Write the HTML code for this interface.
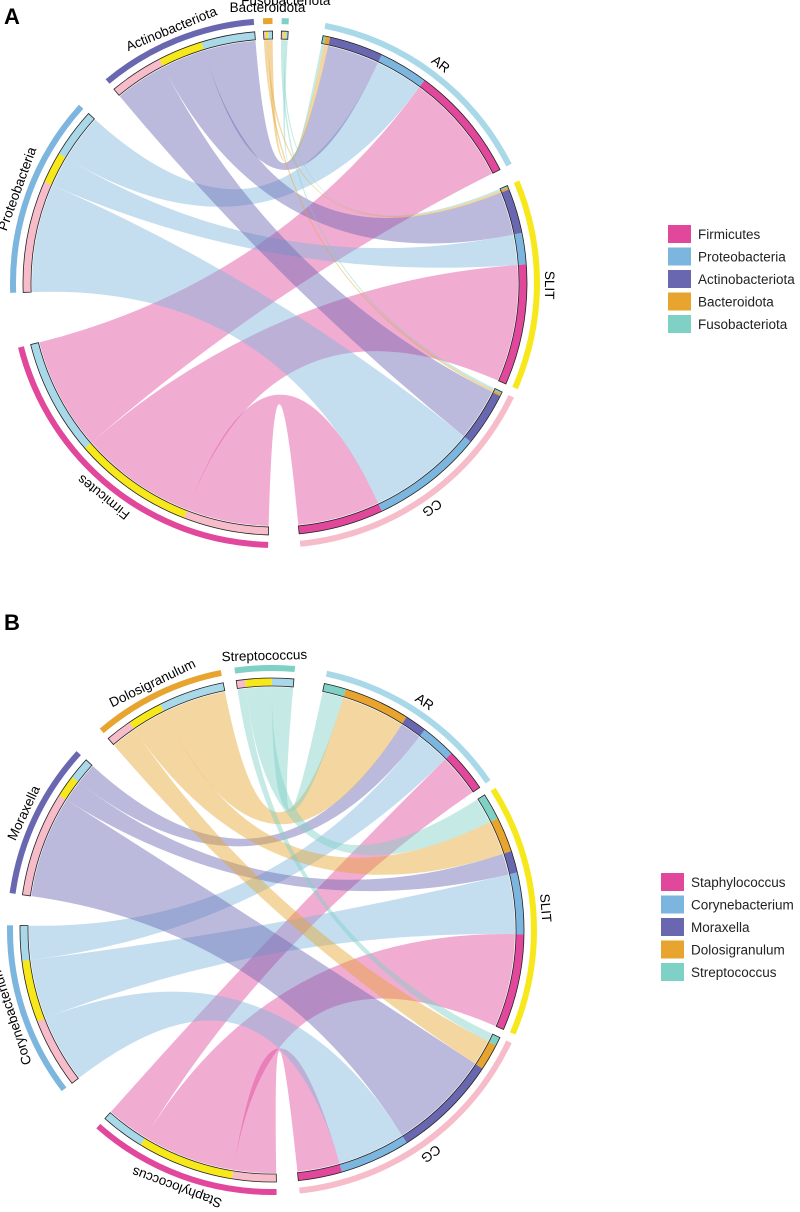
<!DOCTYPE html>
<html><head><meta charset="utf-8"><style>
body{margin:0;background:#fff;font-family:"Liberation Sans",sans-serif;}
svg{display:block}
</style></head><body>
<svg id="svg" width="800" height="1212" viewBox="0 0 800 1212">
<text x="4" y="24" font-size="22" font-weight="bold">A</text>
<text x="4" y="630" font-size="22" font-weight="bold">B</text>
</svg>
<script>
// ---------- Panel A data ----------
const samplesA = ["AR","SLIT","CG"];
const taxaA = ["Firmicutes","Proteobacteria","Actinobacteriota","Bacteroidota","Fusobacteriota"];
const firmicutesA = [26,27,19];
const proteobacteriaA = [11,7,25];
const actinobacteriotaA = [12,10,12];
const bacteroidotaA = [1,0.5,0.5];
const fusobacteriotaA = [0.6,0.4,0.5];
// ---------- Panel B data ----------
const samplesB = ["AR","SLIT","CG"];
const taxaB = ["Staphylococcus","Corynebacterium","Moraxella","Dolosigranulum","Streptococcus"];
const staphylococcusB = [10,22,10];
const corynebacteriumB = [8,14,16];
const moraxellaB = [5,5,24];
const dolosigranulumB = [15,8,6];
const streptococcusB = [5,6,2];

const sampleColors = ["#a9d9e8","#f7e81c","#f7bcc9"];
const taxaColors = ["#e1479b","#7cb5dd","#6a67b1","#e7a42f","#7fd0c5"];
const NS="http://www.w3.org/2000/svg";
const svg=document.getElementById('svg');
function mk(tag,attrs,parent){const e=document.createElementNS(NS,tag);for(const k in attrs)e.setAttribute(k,attrs[k]);(parent||svg).appendChild(e);return e;}
function pt(cx,cy,r,a){const t=a*Math.PI/180;return [cx+r*Math.sin(t),cy-r*Math.cos(t)];}
function arcBand(cx,cy,r1,r2,a1,a2){
  const p1=pt(cx,cy,r2,a1),p2=pt(cx,cy,r2,a2),p3=pt(cx,cy,r1,a2),p4=pt(cx,cy,r1,a1);const lg=(a2-a1)>180?1:0;
  return `M${p1}A${r2},${r2} 0 ${lg} 1 ${p2}L${p3}A${r1},${r1} 0 ${lg} 0 ${p4}Z`;}

function chord(cfg){
  const {cx,cy,samples,taxa,matrix,gapsAfter,start,title}=cfg;
  const g=mk('g',{});
  
  
  const sTot=samples.map((s,j)=>matrix.reduce((a,row)=>a+row[j],0));
  const tTot=matrix.map(r=>r.reduce((a,b)=>a+b,0));
  const total=sTot.reduce((a,b)=>a+b,0)+tTot.reduce((a,b)=>a+b,0);
  const gapSum=gapsAfter.reduce((a,b)=>a+b,0);
  const k=(360-gapSum)/total;
  const sectors=[];let a=start,gi=0;
  samples.forEach((s,j)=>{sectors.push({name:s,kind:'s',i:j,a1:a,a2:a+sTot[j]*k,color:sampleColors[j]});a+=sTot[j]*k+gapsAfter[gi++];});
  taxa.forEach((t,i)=>{sectors.push({name:t,kind:'t',i:i,a1:a,a2:a+tTot[i]*k,color:taxaColors[i]});a+=tTot[i]*k+gapsAfter[gi++];});
  const sSec=sectors.filter(s=>s.kind==='s'),tSec=sectors.filter(s=>s.kind==='t');
  const sPos={},tPos={};
  sSec.forEach(sec=>{let p=sec.a1;for(let i=taxa.length-1;i>=0;i--){const v=matrix[i][sec.i]*k;sPos[i+'_'+sec.i]=[p,p+v];p+=v;}});
  tSec.forEach(sec=>{let p=sec.a1;for(let j=samples.length-1;j>=0;j--){const v=matrix[sec.i][j]*k;tPos[sec.i+'_'+j]=[p,p+v];p+=v;}});
  const rc=243,rin1=244,rin2=252,ro1=259,ro2=265;
  for(let i=0;i<taxa.length;i++)for(let j=0;j<samples.length;j++){
    const [a1,a2]=tPos[i+'_'+j],[b1,b2]=sPos[i+'_'+j];
    const p1=pt(cx,cy,rc,a1),p2=pt(cx,cy,rc,a2),p3=pt(cx,cy,rc,b1),p4=pt(cx,cy,rc,b2);
    const d=`M${p1}A${rc},${rc} 0 0 1 ${p2}Q${cx},${cy} ${p3}A${rc},${rc} 0 0 1 ${p4}Q${cx},${cy} ${p1}Z`;
    const e=mk('path',{d:d,fill:taxaColors[i],'fill-opacity':0.45,stroke:'none'},g);
    
    
  }
  sectors.forEach(sec=>{
    const o=mk('path',{d:arcBand(cx,cy,ro1,ro2,sec.a1,sec.a2),fill:sec.color},g);
    
    
    if(sec.kind==='s'){for(let i=0;i<taxa.length;i++){const [x1,x2]=sPos[i+'_'+sec.i];
      const e=mk('path',{d:arcBand(cx,cy,rin1,rin2,x1,x2),fill:taxaColors[i]},g);
      
      }}
    else{for(let j=0;j<samples.length;j++){const [x1,x2]=tPos[sec.i+'_'+j];
      const e=mk('path',{d:arcBand(cx,cy,rin1,rin2,x1,x2),fill:sampleColors[j]},g);
      
      }}
    const b=mk('path',{d:arcBand(cx,cy,rin1,rin2,sec.a1,sec.a2),fill:'none',stroke:'#222','stroke-width':0.8},g);
    
    
    const mid=(sec.a1+sec.a2)/2;
    const small=(sec.a2-sec.a1)<5;
    const rl=small?(sec.name.startsWith('Fuso')?278:271):270;
    const t=mk('text',{x:cx,y:cy-rl,'text-anchor':'middle','font-size':13.5,transform:`rotate(${small?0:mid} ${cx} ${cy})`},g);
    if(small){const p=pt(cx,cy,rl,mid);t.setAttribute('x',p[0]);t.setAttribute('y',p[1]);t.removeAttribute('transform');}
    t.textContent=sec.name;
    
    
  });
}
function legend(x,y,names,title){
  const g=mk('g',{});
  
  
  names.forEach((n,i)=>{
    const r=mk('rect',{x:x,y:y+i*22.5,width:23,height:18,fill:taxaColors[i]},g);
    
    
    const t=mk('text',{x:x+30,y:y+i*22.5+14,'font-size':13.5,fill:'#222'},g);
    t.textContent=n;
    
    
  });
}
chord({cx:275,cy:283,samples:samplesA,taxa:taxaA,
  matrix:[firmicutesA,proteobacteriaA,actinobacteriotaA,bacteroidotaA,fusobacteriotaA],
  gapsAfter:[4,2,7,12,8,2,2,8],start:11,title:'chord-diagram-phylum'});
chord({cx:272,cy:930,samples:samplesB,taxa:taxaB,
  matrix:[staphylococcusB,corynebacteriumB,moraxellaB,dolosigranulumB,streptococcusB],
  gapsAfter:[2,2,5,11,7,7,3,7],start:12,title:'chord-diagram-genus'});
legend(668,225,taxaA,'legend-phylum');
legend(661,873,taxaB,'legend-genus');
</script>
</body></html>
